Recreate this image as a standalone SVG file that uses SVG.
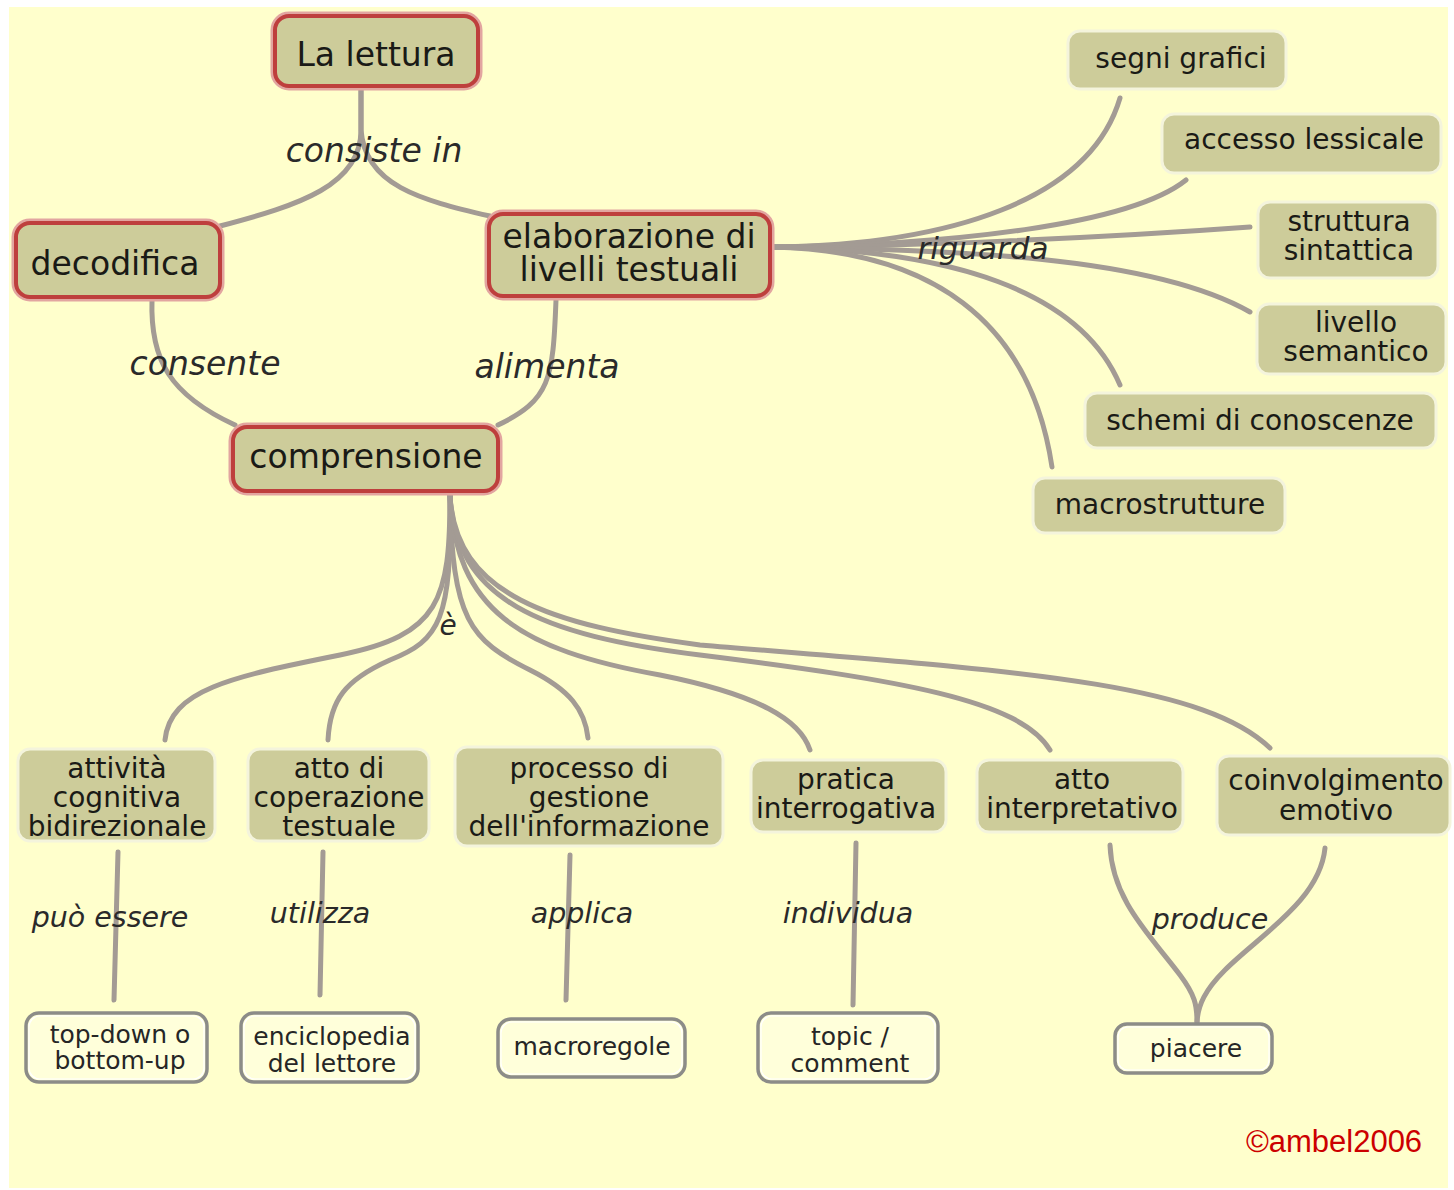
<svg xmlns="http://www.w3.org/2000/svg" width="1454" height="1190" viewBox="0 0 1454 1190">
<style>
.bg{fill:#FFFFCC}
.halo{fill:none;stroke:#E2A5A0;stroke-width:9}
.main{fill:#CDCC9A;stroke:#BE3F3D;stroke-width:4}
.node{fill:#CDCC9A;stroke:#F4F4DC;stroke-width:3}
.leaf{fill:#FFFFDA;stroke:#8C8C88;stroke-width:3.5}
.leafin{fill:none;stroke:#FFFFFF;stroke-width:1.2}
.t1{font-family:"DejaVu Sans",Verdana,sans-serif;font-size:33px;fill:#1A1A16;text-anchor:middle}
.t2{font-family:"DejaVu Sans",Verdana,sans-serif;font-size:28px;fill:#1A1A16;text-anchor:middle}
.t3{font-family:"DejaVu Sans",Verdana,sans-serif;font-size:25px;fill:#262626;text-anchor:middle}
.lab{font-family:"DejaVu Sans",Verdana,sans-serif;font-style:italic;fill:#2A2A2A;text-anchor:middle}
.c{fill:none;stroke:#A39B94;stroke-width:5;stroke-linecap:round}
</style>
<rect x="0" y="0" width="1454" height="1190" fill="#FFFFFF"/>
<rect class="bg" x="9" y="7" width="1439" height="1181"/>

<g id="connectors">
  <path class="c" d="M361 90 L361 130 C361 185 300 205 220 226"/>
  <path class="c" d="M361 90 L361 130 C365 185 420 200 490 216"/>
  <path class="c" d="M152 300 C150 360 170 395 235 425"/>
  <path class="c" d="M556 300 C553 380 550 400 498 425"/>
  <path class="c" d="M772 247 C950 245 1090 200 1120 98"/>
  <path class="c" d="M772 247 C950 245 1130 225 1186 180"/>
  <path class="c" d="M772 247 C900 247 1100 238 1250 227"/>
  <path class="c" d="M772 247 C950 250 1150 255 1250 312"/>
  <path class="c" d="M772 247 C950 250 1080 290 1120 385"/>
  <path class="c" d="M772 247 C930 250 1030 320 1052 467"/>
  <path class="c" d="M450 495 C450 600 440 635 340 655 C230 677 170 690 165 740"/>
  <path class="c" d="M450 495 C452 620 440 640 390 660 C345 680 330 700 328 740"/>
  <path class="c" d="M450 495 C452 620 470 640 530 670 C570 690 585 710 588 738"/>
  <path class="c" d="M450 495 C455 610 520 650 660 675 C760 695 800 720 810 750"/>
  <path class="c" d="M450 495 C455 600 540 635 700 655 C900 680 1020 700 1050 750"/>
  <path class="c" d="M450 495 C455 595 550 625 700 645 C1000 670 1200 680 1270 748"/>
  <path class="c" d="M118 852 L114 1000"/>
  <path class="c" d="M323 852 L320 995"/>
  <path class="c" d="M570 855 L566 1000"/>
  <path class="c" d="M856 843 L853 1005"/>
  <path class="c" d="M1110 845 C1112 900 1150 935 1180 975 C1195 995 1197 1005 1197 1022"/>
  <path class="c" d="M1325 848 C1320 900 1260 935 1225 970 C1205 990 1198 1005 1197 1022"/>
  <text class="lab" x="374" y="162" font-size="33">consiste in</text>
  <text class="lab" x="205" y="375" font-size="33">consente</text>
  <text class="lab" x="547" y="378" font-size="33">alimenta</text>
  <text class="lab" x="983" y="259" font-size="31">riguarda</text>
  <text class="lab" x="448" y="635" font-size="28">è</text>
  <text class="lab" x="110" y="927" font-size="28.5">può essere</text>
  <text class="lab" x="320" y="923" font-size="28.5">utilizza</text>
  <text class="lab" x="582" y="923" font-size="28.5">applica</text>
  <text class="lab" x="848" y="923" font-size="28.5">individua</text>
  <text class="lab" x="1210" y="929" font-size="28.5">produce</text>
</g>

<g id="n-lettura"><rect class="halo" x="275" y="16" width="203" height="70" rx="14"/><rect class="main" x="275" y="16" width="203" height="70" rx="14"/><text class="t1" x="376" y="66">La lettura</text></g>
<g id="n-decodifica"><rect class="halo" x="16" y="223" width="204" height="74" rx="14"/><rect class="main" x="16" y="223" width="204" height="74" rx="14"/><text class="t1" x="115" y="275">decodifica</text></g>
<g id="n-elaborazione"><rect class="halo" x="489" y="214" width="281" height="82" rx="14"/><rect class="main" x="489" y="214" width="281" height="82" rx="14"/><text class="t1" x="629" y="248">elaborazione di<tspan x="629" y="281">livelli testuali</tspan></text></g>
<g id="n-comprensione"><rect class="halo" x="233" y="427" width="265" height="64" rx="14"/><rect class="main" x="233" y="427" width="265" height="64" rx="14"/><text class="t1" x="366" y="468">comprensione</text></g>

<g id="n-segni"><rect class="node" x="1068" y="31" width="218" height="58" rx="12"/><text class="t2" x="1181" y="68">segni grafici</text></g>
<g id="n-accesso"><rect class="node" x="1162" y="114" width="279" height="59" rx="12"/><text class="t2" x="1304" y="149">accesso lessicale</text></g>
<g id="n-struttura"><rect class="node" x="1258" y="202" width="180" height="76" rx="12"/><text class="t2" x="1349" y="231">struttura<tspan x="1349" y="260">sintattica</tspan></text></g>
<g id="n-livello"><rect class="node" x="1257" y="304" width="189" height="70" rx="12"/><text class="t2" x="1356" y="332">livello<tspan x="1356" y="361">semantico</tspan></text></g>
<g id="n-schemi"><rect class="node" x="1085" y="393" width="351" height="55" rx="12"/><text class="t2" x="1260" y="430">schemi di conoscenze</text></g>
<g id="n-macrostrutture"><rect class="node" x="1033" y="478" width="252" height="55" rx="12"/><text class="t2" x="1160" y="514">macrostrutture</text></g>

<g id="n-attivita"><rect class="node" x="18" y="749" width="197" height="92" rx="12"/><text class="t2" x="117" y="778">attività<tspan x="117" y="807">cognitiva</tspan><tspan x="117" y="836">bidirezionale</tspan></text></g>
<g id="n-atto-coop"><rect class="node" x="248" y="749" width="181" height="92" rx="12"/><text class="t2" x="339" y="778">atto di<tspan x="339" y="807">coperazione</tspan><tspan x="339" y="836">testuale</tspan></text></g>
<g id="n-processo"><rect class="node" x="455" y="747" width="268" height="99" rx="12"/><text class="t2" x="589" y="778">processo di<tspan x="589" y="807">gestione</tspan><tspan x="589" y="836">dell'informazione</tspan></text></g>
<g id="n-pratica"><rect class="node" x="751" y="760" width="195" height="72" rx="12"/><text class="t2" x="846" y="789">pratica<tspan x="846" y="818">interrogativa</tspan></text></g>
<g id="n-atto-interp"><rect class="node" x="977" y="760" width="206" height="72" rx="12"/><text class="t2" x="1082" y="789">atto<tspan x="1082" y="818">interpretativo</tspan></text></g>
<g id="n-coinvolgimento"><rect class="node" x="1217" y="756" width="233" height="79" rx="12"/><text class="t2" x="1336" y="790">coinvolgimento<tspan x="1336" y="820">emotivo</tspan></text></g>

<g id="n-topdown"><rect class="leaf" x="26" y="1013" width="181" height="69" rx="13"/><rect class="leafin" x="29" y="1016" width="175" height="63" rx="11"/><text class="t3" x="120" y="1043">top-down o<tspan x="120" y="1069">bottom-up</tspan></text></g>
<g id="n-enciclopedia"><rect class="leaf" x="241" y="1013" width="177" height="69" rx="13"/><rect class="leafin" x="244" y="1016" width="171" height="63" rx="11"/><text class="t3" x="332" y="1045">enciclopedia<tspan x="332" y="1072">del lettore</tspan></text></g>
<g id="n-macroregole"><rect class="leaf" x="498" y="1019" width="187" height="58" rx="13"/><rect class="leafin" x="501" y="1022" width="181" height="52" rx="11"/><text class="t3" x="592" y="1055">macroregole</text></g>
<g id="n-topic"><rect class="leaf" x="758" y="1013" width="180" height="69" rx="13"/><rect class="leafin" x="761" y="1016" width="174" height="63" rx="11"/><text class="t3" x="850" y="1045">topic /<tspan x="850" y="1072">comment</tspan></text></g>
<g id="n-piacere"><rect class="leaf" x="1115" y="1024" width="157" height="49" rx="12"/><rect class="leafin" x="1118" y="1027" width="151" height="43" rx="10"/><text class="t3" x="1196" y="1057">piacere</text></g>

<text x="1334" y="1152" font-family="'Liberation Sans',Arial,sans-serif" font-size="31" fill="#CC0000" text-anchor="middle">©ambel2006</text>
</svg>
